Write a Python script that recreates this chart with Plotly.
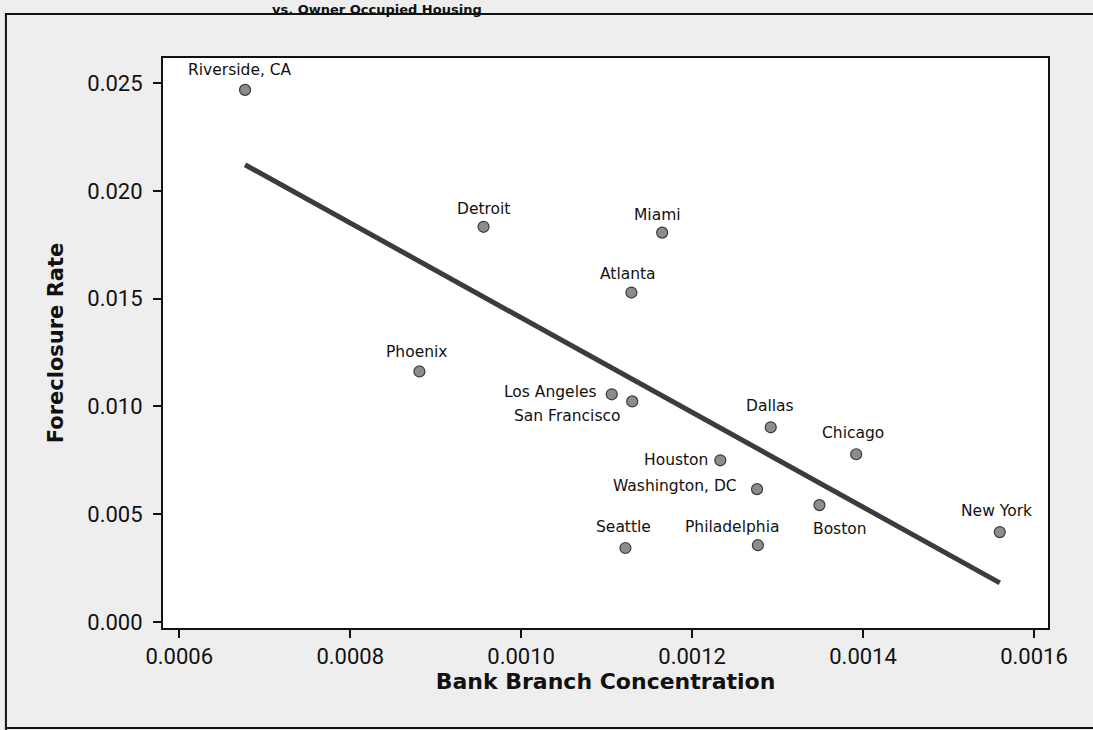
import numpy as np
import plotly.graph_objects as go

# ---- data ----
cities = ["Riverside, CA", "Detroit", "Miami", "Atlanta", "Phoenix", "Los Angeles",
          "San Francisco", "Dallas", "Chicago", "Houston", "Washington, DC", "Boston",
          "Philadelphia", "Seattle", "New York"]
branch_conc = [0.000677, 0.000956, 0.001165, 0.001129, 0.000881, 0.001106,
               0.001130, 0.001292, 0.001392, 0.001233, 0.001276, 0.001349,
               0.001277, 0.001122, 0.001560]
foreclosure = [0.02468, 0.01833, 0.01806, 0.01528, 0.01162, 0.01056,
               0.01023, 0.00903, 0.00778, 0.00750, 0.00616, 0.00542,
               0.00356, 0.00343, 0.00417]
x_ticks = [0.0006, 0.0008, 0.0010, 0.0012, 0.0014, 0.0016]
x_ticklabels = ["0.0006", "0.0008", "0.0010", "0.0012", "0.0014", "0.0016"]
y_ticks = [0.000, 0.005, 0.010, 0.015, 0.020, 0.025]
y_ticklabels = ["0.000", "0.005", "0.010", "0.015", "0.020", "0.025"]

# label placement (pixels): anchor, xshift, yshift
label_style = {
    "Riverside, CA": ("center", -5, 20),
    "Detroit": ("center", 0, 18),
    "Miami": ("center", -5, 18),
    "Atlanta": ("center", -3, 19),
    "Phoenix": ("center", -2, 19),
    "Los Angeles": ("right", -13, 2),
    "San Francisco": ("right", -10, -15),
    "Dallas": ("center", -1, 21),
    "Chicago": ("center", -3, 21),
    "Houston": ("right", -10, 0),
    "Washington, DC": ("right", -18, 3),
    "Boston": ("center", 21, -24),
    "Philadelphia": ("center", -26, 18),
    "Seattle": ("center", -2, 21),
    "New York": ("center", -3, 21),
}

LABEL_FONT = "DejaVu Sans"
TICK_FONT = "Roboto"

# least-squares fit line across the data range
slope, intercept = np.polyfit(branch_conc, foreclosure, 1)
fit_x = np.array([min(branch_conc), max(branch_conc)])
fit_y = slope * fit_x + intercept

fig = go.Figure()
fig.add_trace(go.Scatter(
    x=fit_x, y=fit_y, mode="lines",
    line=dict(color="#3c3c3c", width=5),
    hoverinfo="skip", showlegend=False,
))
fig.add_trace(go.Scatter(
    x=branch_conc, y=foreclosure, mode="markers",
    marker=dict(symbol="circle", size=11, color="#8c8c8c",
                line=dict(color="#3a3a3a", width=1.2)),
    text=cities, showlegend=False,
))

annotations = []
for c, xv, yv in zip(cities, branch_conc, foreclosure):
    anchor, dx, dy = label_style[c]
    annotations.append(dict(
        x=xv, y=yv, xref="x", yref="y", text=c, showarrow=False,
        xanchor=anchor, yanchor="middle", xshift=dx, yshift=dy,
        font=dict(family=LABEL_FONT, size=15.5, color="#111"),
    ))
# title fragment at the very top of the scanned page
annotations.append(dict(
    x=0.2418, y=1.1018, xref="paper", yref="paper",
    text="<b>vs. Owner Occupied Housing</b>",
    showarrow=False, xanchor="center", yanchor="top",
    font=dict(family=LABEL_FONT, size=13, color="#111"),
))

fig.update_layout(
    width=1093, height=730,
    margin=dict(l=163, r=45, t=58, b=102),
    paper_bgcolor="#eeeeee",
    plot_bgcolor="white",
    annotations=annotations,
    font=dict(family=LABEL_FONT, color="#111"),
    shapes=[
        # outer scanned frame
        dict(type="line", xref="paper", yref="paper", x0=-0.1786, x1=1.06, y0=1.0772, y1=1.0772,
             line=dict(color="#111", width=2)),
        dict(type="line", xref="paper", yref="paper", x0=-0.1775, x1=-0.1775, y0=-0.18, y1=1.0772,
             line=dict(color="#111", width=2)),
        dict(type="line", xref="paper", yref="paper", x0=-0.1786, x1=1.06, y0=-0.1754, y1=-0.1754,
             line=dict(color="#111", width=2)),
    ],
)
fig.update_xaxes(
    range=[0.000581, 0.0016164],
    tickvals=x_ticks, ticktext=x_ticklabels,
    ticks="outside", ticklen=8, tickwidth=1.5, tickcolor="#111",
    showline=True, linecolor="#111", linewidth=2, mirror=True,
    showgrid=False, zeroline=False,
    tickfont=dict(family=TICK_FONT, size=22, color="#111"),
    title=dict(text="<b>Bank Branch Concentration</b>", standoff=4,
               font=dict(family=LABEL_FONT, size=22, color="#111")),
)
fig.update_yaxes(
    range=[-0.00028, 0.02616],
    tickvals=y_ticks, ticktext=y_ticklabels,
    ticks="outside", ticklen=8, tickwidth=1.5, tickcolor="#111",
    ticklabelstandoff=6,
    showline=True, linecolor="#111", linewidth=2, mirror=True,
    showgrid=False, zeroline=False,
    tickfont=dict(family=TICK_FONT, size=22, color="#111"),
    title=dict(text="<b>Foreclosure Rate</b>", standoff=18,
               font=dict(family=LABEL_FONT, size=21, color="#111")),
)

fig.write_html("out.html", config={"displayModeBar": False},
               post_script="document.body.style.margin='0';")
